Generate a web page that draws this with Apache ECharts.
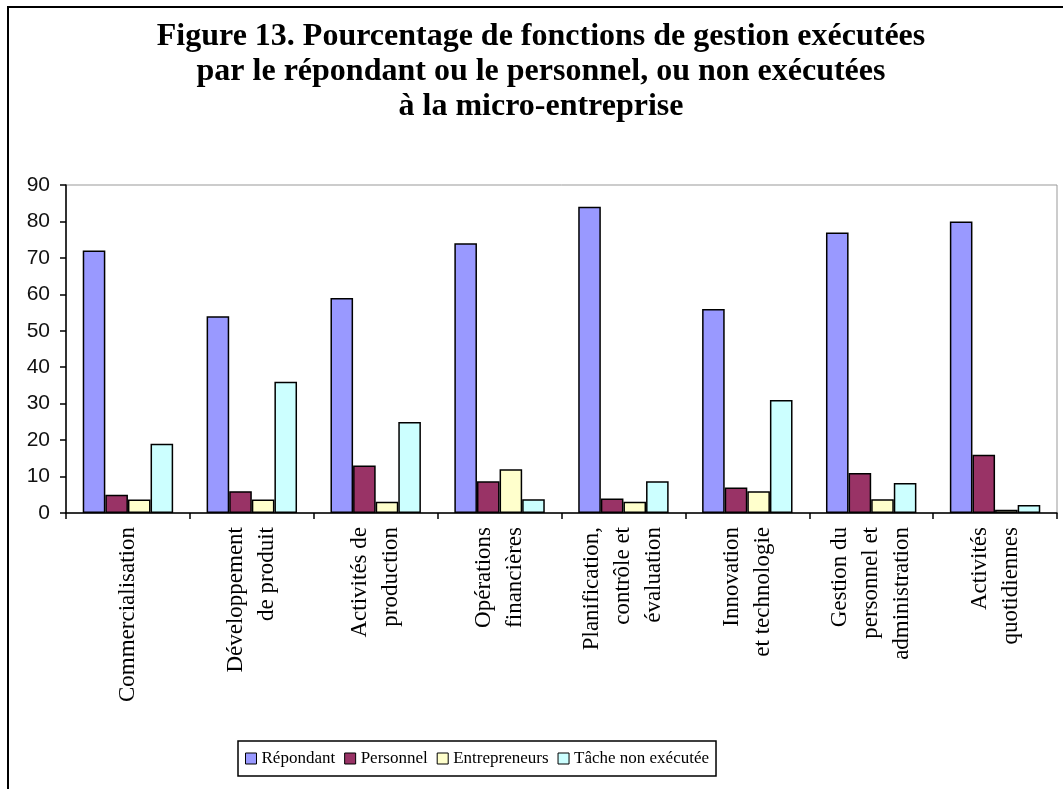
<!DOCTYPE html>
<html>
<head>
<meta charset="utf-8">
<script src="https://cdn.jsdelivr.net/npm/echarts@6/dist/echarts.min.js"></script>
<style>
  html, body { margin: 0; padding: 0; background: #fff; }
  #chart { width: 1063px; height: 789px; }
</style>
</head>
<body>
<div id="chart"></div>
<script>
// catégories (axe x)
const categories = [
  'Commercialisation',
  'Développement\nde produit',
  'Activités de\nproduction',
  'Opérations\nfinancières',
  'Planification,\ncontrôle et\névaluation',
  'Innovation\net technologie',
  'Gestion du\npersonnel et\nadministration',
  'Activités\nquotidiennes'
]

// séries
const seriesNames = ['Répondant', 'Personnel', 'Entrepreneurs', 'Tâche non exécutée']
const repondant = [72, 54, 59, 74, 84, 56, 77, 80]
const personnel = [5, 6, 13, 8.7, 4, 7, 11, 16]
const entrepreneurs = [3.7, 3.7, 3.1, 12, 3.1, 6, 3.8, 0.9]
const tacheNonExecutee = [19, 36, 25, 3.8, 8.7, 31, 8.2, 2.2]
const colors = ['#9999FF', '#993366', '#FFFFCC', '#CCFFFF']

const chart = echarts.init(document.getElementById('chart'))

const makeSeries = (name, data) => ({
  name,
  type: 'bar',
  data,
  barGap: '0%',
  barCategoryGap: '27%',
  itemStyle: { borderColor: '#000', borderWidth: 1.5 },
  emphasis: { disabled: true }
})

const option = {
  animation: false,
  color: colors,
  title: {
    text: 'Figure 13. Pourcentage de fonctions de gestion exécutées\npar le répondant ou le personnel, ou non exécutées\nà la micro-entreprise',
    left: 536,
    top: 14,
    textAlign: 'center',
    textStyle: {
      fontFamily: 'Liberation Serif',
      fontWeight: 'bold',
      fontSize: 32,
      lineHeight: 35,
      color: '#000'
    }
  },
  // cadre extérieur
  graphic: [
    {
      type: 'polyline',
      shape: { points: [[8, 789], [8, 7], [1063, 7]] },
      style: { stroke: '#000', lineWidth: 2, fill: null }
    }
  ],
  legend: {
    data: seriesNames,
    left: 238,
    top: 741,
    icon: 'rect',
    itemWidth: 11,
    itemHeight: 11,
    itemGap: 9,
    padding: [9, 7, 9, 7],
    borderColor: '#000',
    borderWidth: 1.5,
    itemStyle: { borderColor: '#000', borderWidth: 1 },
    textStyle: {
      fontFamily: 'Liberation Serif',
      fontSize: 17,
      color: '#000'
    }
  },
  grid: {
    left: 66,
    right: 6,
    top: 185,
    bottom: 276,
    show: true,
    borderColor: '#999',
    borderWidth: 1
  },
  xAxis: {
    type: 'category',
    data: categories,
    axisLine: { lineStyle: { color: '#000', width: 1.5 } },
    axisTick: { show: true, length: 6, lineStyle: { color: '#000', width: 1.5 } },
    axisLabel: {
      interval: 0,
      rotate: 90,
      margin: 14,
      fontFamily: 'Liberation Serif',
      fontSize: 23,
      lineHeight: 31,
      color: '#000'
    }
  },
  yAxis: {
    type: 'value',
    min: 0,
    max: 90,
    interval: 10,
    splitLine: { show: false },
    axisLine: { show: true, lineStyle: { color: '#000', width: 1.5 } },
    axisTick: { show: true, length: 6, lineStyle: { color: '#000', width: 1.5 } },
    axisLabel: {
      margin: 16,
      fontFamily: 'Liberation Sans',
      fontSize: 21,
      color: '#111'
    }
  },
  series: [
    makeSeries(seriesNames[0], repondant),
    makeSeries(seriesNames[1], personnel),
    makeSeries(seriesNames[2], entrepreneurs),
    makeSeries(seriesNames[3], tacheNonExecutee)
  ]
}

chart.setOption(option)
</script>
</body>
</html>
